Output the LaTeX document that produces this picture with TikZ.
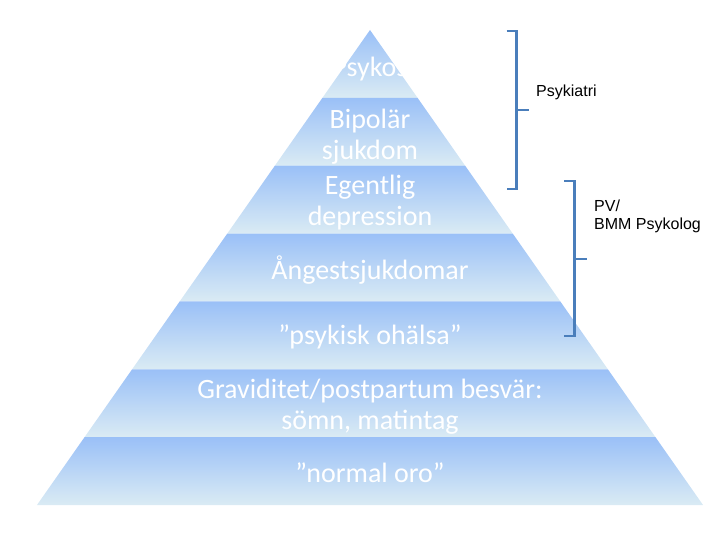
\documentclass[tikz,border=0pt]{standalone}
\usepackage{fontspec}
\setmainfont{Carlito}
\newfontfamily\labelfont{Liberation Sans}
\definecolor{bandtop}{HTML}{9AC0F7}
\definecolor{bandbot}{HTML}{DAEBF4}
\definecolor{bracketblue}{HTML}{4A7EBB}
\begin{document}
\begin{tikzpicture}[x=1pt,y=-1pt,
  level/.style={text=white, align=center, font=\fontsize{28}{31}\selectfont, inner sep=0pt},
  sidelabel/.style={text=black, align=left, anchor=west, font=\labelfont\fontsize{16}{18.5}\selectfont, inner sep=0pt},
  bracketline/.style={draw=bracketblue, line width=2.8pt}]
\useasboundingbox (0,0) rectangle (720,540);
% pyramid bands
\foreach \k in {0,...,6}{
  \pgfmathsetmacro\ya{30+\k*67.857}
  \pgfmathsetmacro\yb{30+(\k+1)*67.857}
  \pgfmathsetmacro\wa{(\ya-30)*0.7011}
  \pgfmathsetmacro\wb{(\yb-30)*0.7011}
  \shade[top color=bandtop, bottom color=bandbot]
    (370-\wa,\ya) -- (370+\wa,\ya) -- (370+\wb,\yb) -- (370-\wb,\yb) -- cycle;
}
% texts
\node[level] (psykos) at (370,69) {Psykos};
\node[level] (bipolar) at (370,137) {Bipolär\\sjukdom};
\node[level] (egentlig) at (370,203) {Egentlig\\depression};
\node[level] (angest) at (370,270) {Ångestsjukdomar};
\node[level] (ohalsa) at (370,337) {”psykisk ohälsa”};
\node[level] (gravid) at (370,407) {Graviditet/postpartum besvär:\\sömn, matintag};
\node[level] (normal) at (370,473) {”normal oro”};
% brackets
\coordinate (b1t) at (506.7,31);
\coordinate (b1b) at (506.7,189);
\coordinate (b1m) at (516.7,110);
\draw[bracketline] (b1t) -- (516.7,31) -- (516.7,189) -- (b1b);
\draw[bracketline] (b1m) -- (529,110);
\coordinate (b2t) at (564,181);
\coordinate (b2b) at (564,336);
\coordinate (b2m) at (574.3,259);
\draw[bracketline] (b2t) -- (574.3,181) -- (574.3,336) -- (b2b);
\draw[bracketline] (b2m) -- (587,259);
\node[sidelabel, anchor=base west] (psykiatri) at (536,97) {Psykiatri};
\node[sidelabel, anchor=base west] (pv) at (594,229.5) {PV/\\BMM Psykolog};
\end{tikzpicture}
\end{document}
